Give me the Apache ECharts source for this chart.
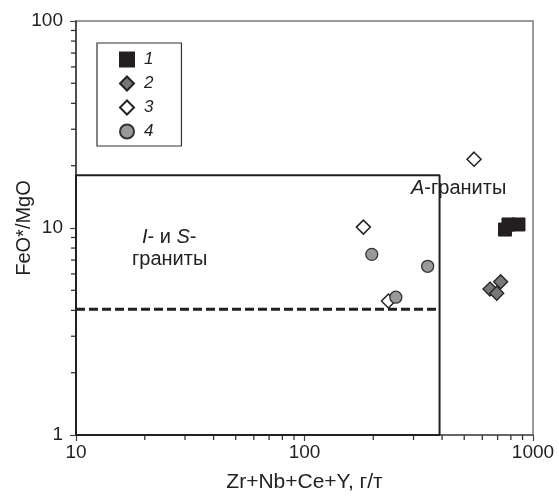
<!DOCTYPE html>
<html>
<head>
<meta charset="utf-8">
<script src="https://cdn.jsdelivr.net/npm/echarts@6/dist/echarts.min.js"></script>
<style>
  html, body { margin: 0; padding: 0; background: #fff; }
  #chart { width: 559px; height: 496px; }
</style>
</head>
<body>
<div id="chart"></div>
<script>
// Sample groups: Zr+Nb+Ce+Y (ppm) vs FeO*/MgO
const group1 = [[754, 9.83], [781, 10.4], [864, 10.4]];
const group2 = [[722, 5.50], [648, 5.07], [694, 4.84]];
const group3 = [[552, 21.5], [181, 10.1], [233, 4.44]];
const group4 = [[197, 7.46], [346, 6.53], [251, 4.63]];
const seriesNames = ['1', '2', '3', '4'];

// Field of I- and S-type granites and the dashed FeO*/MgO boundary
const isField = [[10, 1], [10, 18], [390, 18], [390, 1], [10, 1]];
const dashedBoundary = [[10, 4.05], [390, 4.05]];

// Axis ranges and minor tick values (log decades)
const xRange = [10, 1000];
const yRange = [1, 100];
const xMinorTicks = [20, 30, 40, 50, 60, 70, 80, 90, 200, 300, 400, 500, 600, 700, 800, 900];
const yMinorTicks = [2, 3, 4, 5, 6, 7, 8, 9, 20, 30, 40, 50, 60, 70, 80, 90];

const FONT = 'Liberation Sans, Arial, sans-serif';
const chart = echarts.init(document.getElementById('chart'), null, { renderer: 'canvas' });

const minorTickData = xMinorTicks.map(v => [v, yRange[0], 0])
  .concat(yMinorTicks.map(v => [xRange[0], v, 1]));

const plainNumber = v => String(Math.round(v));

const option = {
  backgroundColor: '#fff',
  animation: false,
  grid: {
    left: 76, right: 26, top: 21, bottom: 61,
    outerBoundsMode: 'none', containLabel: false,
    show: true, borderColor: '#7a7a7a', borderWidth: 1.5, backgroundColor: 'transparent'
  },
  xAxis: {
    type: 'log', logBase: 10, min: xRange[0], max: xRange[1],
    name: 'Zr+Nb+Ce+Y, г/т', nameLocation: 'middle', nameGap: 37, nameMoveOverlap: false,
    nameTextStyle: { fontFamily: FONT, fontSize: 21, color: '#222' },
    axisLine: { show: true, lineStyle: { color: '#555', width: 1.5 } },
    axisTick: { show: true, inside: false, length: 6, lineStyle: { color: '#444', width: 1.2 } },
    axisLabel: { fontFamily: FONT, fontSize: 19, color: '#222', margin: 8, formatter: plainNumber },
    splitLine: { show: false }
  },
  yAxis: {
    type: 'log', logBase: 10, min: yRange[0], max: yRange[1],
    name: 'FeO*/MgO', nameLocation: 'middle', nameGap: 42, nameRotate: 90, nameMoveOverlap: false,
    nameTextStyle: { fontFamily: FONT, fontSize: 20, color: '#222' },
    axisLine: { show: true, lineStyle: { color: '#333', width: 1.5 } },
    axisTick: { show: true, inside: false, length: 6, lineStyle: { color: '#444', width: 1.2 } },
    axisLabel: { fontFamily: FONT, fontSize: 19, color: '#222', margin: 13, formatter: plainNumber },
    splitLine: { show: false }
  },
  legend: {
    data: seriesNames,
    orient: 'vertical',
    left: 97, top: 43,
    padding: [8, 28, 6, 22],
    itemGap: 7,
    itemWidth: 14, itemHeight: 14,
    borderColor: '#333', borderWidth: 1.2,
    textStyle: { fontFamily: FONT, fontSize: 17, fontStyle: 'italic', color: '#222', padding: [0, 0, 0, 5] }
  },
  graphic: [
    {
      type: 'text', left: 411, top: 178,
      style: {
        text: '{i|A}-граниты', fill: '#222',
        font: '20px ' + FONT,
        rich: { i: { fontStyle: 'italic', fontFamily: FONT, fontSize: 20 } }
      }
    },
    {
      type: 'text', left: 142, top: 227,
      style: {
        text: '{i|I}- и {i|S}-', fill: '#222',
        font: '20px ' + FONT,
        rich: { i: { fontStyle: 'italic', fontFamily: FONT, fontSize: 20 } }
      }
    },
    {
      type: 'text', left: 132, top: 249,
      style: { text: 'граниты', fill: '#222', font: '20px ' + FONT }
    }
  ],
  series: [
    {
      name: 'minor-ticks', type: 'custom', silent: true, clip: false, z: 1,
      data: minorTickData,
      renderItem: function (params, api) {
        const p = api.coord([api.value(0), api.value(1)]);
        const vertical = api.value(2) === 0;
        return {
          type: 'line',
          shape: vertical
            ? { x1: p[0], y1: p[1], x2: p[0], y2: p[1] + 5 }
            : { x1: p[0], y1: p[1], x2: p[0] - 5, y2: p[1] },
          style: { stroke: '#333', lineWidth: 1.3 }
        };
      }
    },
    {
      name: 'field', type: 'line', data: isField, symbol: 'none', clip: false, silent: true, z: 3,
      lineStyle: { color: '#231f20', width: 2 }
    },
    {
      name: 'boundary', type: 'line', data: dashedBoundary, symbol: 'none', clip: false, silent: true, z: 3,
      lineStyle: { color: '#231f20', width: 2.8, type: [9, 4] }
    },
    {
      name: seriesNames[0], type: 'scatter', data: group1, symbol: 'rect', symbolSize: 13, z: 5,
      itemStyle: { color: '#231f20', borderColor: '#231f20', borderWidth: 1, opacity: 1 }
    },
    {
      name: seriesNames[1], type: 'scatter', data: group2, symbol: 'diamond', symbolSize: 14, z: 5,
      itemStyle: { color: '#777', borderColor: '#222', borderWidth: 1.3, opacity: 1 }
    },
    {
      name: seriesNames[2], type: 'scatter', data: group3, symbol: 'diamond', symbolSize: 14, z: 5,
      itemStyle: { color: '#fff', borderColor: '#222', borderWidth: 1.5, opacity: 1 }
    },
    {
      name: seriesNames[3], type: 'scatter', data: group4, symbol: 'circle', symbolSize: 12, z: 5,
      itemStyle: { color: '#999', borderColor: '#333', borderWidth: 1.3, opacity: 1 }
    }
  ]
};

chart.setOption(option);
</script>
</body>
</html>
